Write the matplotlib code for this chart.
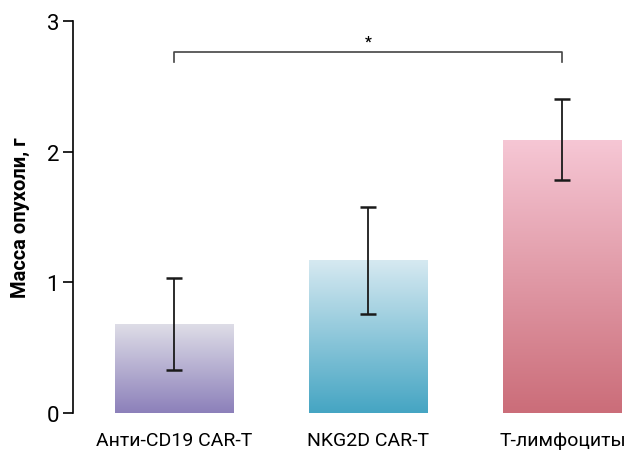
import numpy as np
import matplotlib.pyplot as plt
from matplotlib.colors import LinearSegmentedColormap
from matplotlib.patches import Rectangle

groups = ['Анти-CD19 CAR-T', 'NKG2D CAR-T', 'Т-лимфоциты']
mass = [0.68, 1.17, 2.09]
err = [0.35, 0.41, 0.31]
top_colors = ['#dedde7', '#d6e9f1', '#f6c7d5']
bottom_colors = ['#8c80ba', '#45a5c3', '#cb6d79']

plt.rcParams['font.family'] = ['Roboto', 'DejaVu Sans']

fig = plt.figure(figsize=(6.3, 4.52), dpi=100)
ax = fig.add_axes([73/630, 38/452, 557/630, 392/452])

x = np.arange(len(groups))
width = 0.613
grad = np.linspace(0, 1, 256).reshape(-1, 1)
for i in range(len(groups)):
  cmap = LinearSegmentedColormap.from_list('g%d' % i, [bottom_colors[i], top_colors[i]])
  rect = Rectangle((x[i] - width/2, 0), width, mass[i], facecolor='none', edgecolor='none')
  ax.add_patch(rect)
  im = ax.imshow(grad, cmap=cmap, origin='lower', aspect='auto',
                 extent=[x[i] - width/2, x[i] + width/2, 0, mass[i]], zorder=1)
  im.set_clip_path(rect)

ax.errorbar(x, mass, yerr=err, fmt='none', ecolor='#1a1a1a', elinewidth=1.3,
            capsize=6, capthick=1.8, zorder=3)

# significance bracket
by, bh = 2.76, 0.07
ax.plot([x[0], x[0], x[2], x[2]], [by - bh, by, by, by - bh], color='#444444', lw=1.2)
ax.text((x[0] + x[2]) / 2, by + 0.03, '*', ha='center', va='bottom', fontsize=11, fontweight='bold')

ax.set_xlim(-0.523, 2.348)
ax.set_ylim(0, 3)
ax.set_yticks([0, 1, 2, 3])
ax.set_xticks(x)
ax.set_xticklabels(groups, fontsize=14)
ax.tick_params(axis='y', labelsize=16, length=7, width=1.2, pad=3)
ax.tick_params(axis='x', length=0, pad=13)
for s in ['top', 'right', 'bottom']:
  ax.spines[s].set_visible(False)
ax.spines['left'].set_linewidth(1.2)
ax.set_ylabel('Масса опухоли, г', fontsize=14.5, fontweight='bold', labelpad=12)

plt.savefig('out.png', dpi=100)
